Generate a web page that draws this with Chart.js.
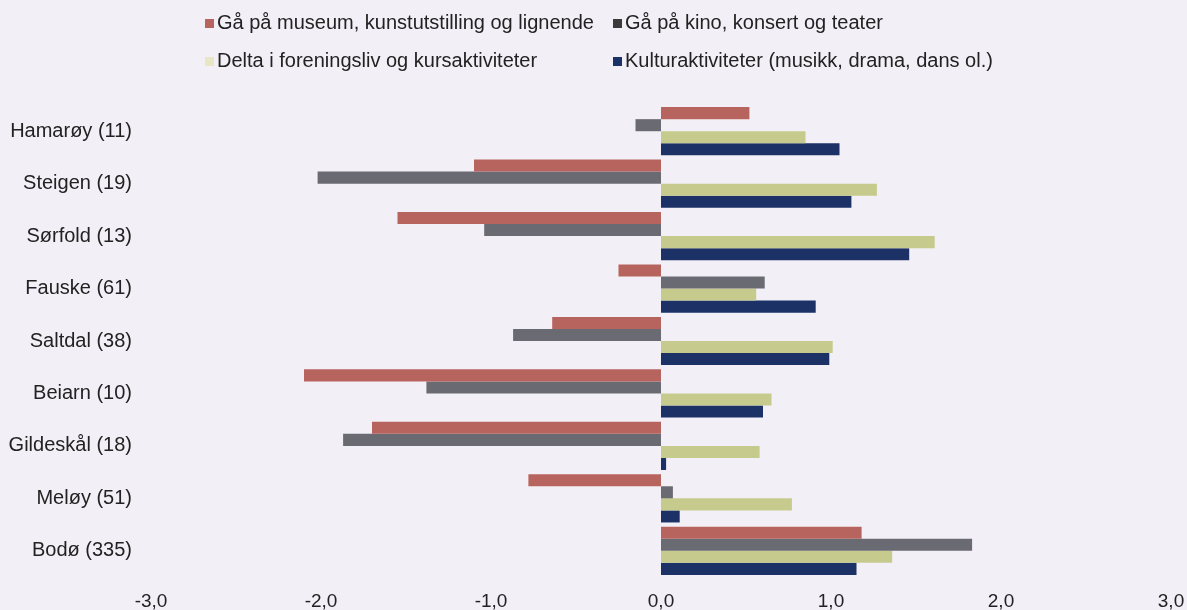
<!DOCTYPE html>
<html>
<head>
<meta charset="utf-8">
<script src="https://cdn.jsdelivr.net/npm/chart.js@4/dist/chart.umd.min.js"></script>
<style>
  html, body { margin: 0; padding: 0; background: #f3eff6; }
  #wrap { position: relative; width: 1187px; height: 610px; }
  #legend { position: absolute; left: 0; top: 0; font-family: "Liberation Sans", Arial, sans-serif; font-size: 20px; color: #222; }
  .item { position: absolute; white-space: nowrap; line-height: 20px; }
  .item i { display: inline-block; width: 9px; height: 9px; margin-right: 3px; vertical-align: 1px; }
</style>
</head>
<body>
<div id="wrap">
  <canvas id="chart" width="1187" height="610"></canvas>
  <div id="legend"></div>
</div>
<script>
// kommuner (antall svar)
const kommuner = ['Hamarøy (11)', 'Steigen (19)', 'Sørfold (13)', 'Fauske (61)', 'Saltdal (38)',
  'Beiarn (10)', 'Gildeskål (18)', 'Meløy (51)', 'Bodø (335)'];

const seriesNames = ['Gå på museum, kunstutstilling og lignende', 'Gå på kino, konsert og teater',
  'Delta i foreningsliv og kursaktiviteter', 'Kulturaktiviteter (musikk, drama, dans ol.)'];

const museum  = [0.52, -1.10, -1.55, -0.25, -0.64, -2.10, -1.70, -0.78, 1.18];
const kino    = [-0.15, -2.02, -1.04, 0.61, -0.87, -1.38, -1.87, 0.07, 1.83];
const forening = [0.85, 1.27, 1.61, 0.56, 1.01, 0.65, 0.58, 0.77, 1.36];
const kultur  = [1.05, 1.12, 1.46, 0.91, 0.99, 0.60, 0.03, 0.11, 1.15];

const xTicks = [-3, -2, -1, 0, 1, 2, 3];

const colors = ['#b7635e', '#6a6a72', '#c6cb8d', '#1c3266'];
const legendColors = ['#b7635e', '#3a3a3a', '#e9e6c6', '#1c3266'];

// legend is placed by hand, like the original
const legendPos = [[205, 12], [613, 12], [205, 50], [613, 50]];
const legend = document.getElementById('legend');
seriesNames.forEach((name, i) => {
  const d = document.createElement('div');
  d.className = 'item';
  d.style.left = legendPos[i][0] + 'px';
  d.style.top = legendPos[i][1] + 'px';
  d.innerHTML = '<i style="background:' + legendColors[i] + '"></i>' + name;
  legend.appendChild(d);
});

const bg = {
  id: 'bg',
  beforeDraw(chart) {
    const c = chart.ctx;
    c.save();
    c.fillStyle = '#f3eff6';
    c.fillRect(0, 0, chart.width, chart.height);
    c.restore();
  }
};

const font = { family: '"Liberation Sans", Arial, sans-serif', size: 20 };

new Chart(document.getElementById('chart').getContext('2d'), {
  type: 'bar',
  data: {
    labels: kommuner,
    datasets: [museum, kino, forening, kultur].map((d, i) => ({
      label: seriesNames[i],
      data: d,
      backgroundColor: colors[i],
      categoryPercentage: 0.92,
      barPercentage: 1.0
    }))
  },
  options: {
    indexAxis: 'y',
    responsive: false,
    animation: false,
    layout: { padding: { top: 105, right: 16, left: 0, bottom: 0 } },
    plugins: { legend: { display: false }, tooltip: { enabled: false } },
    scales: {
      x: {
        min: -3, max: 3,
        afterBuildTicks(s) { s.ticks = xTicks.map(v => ({ value: v })); },
        afterFit(s) { s.height = 33; s.paddingLeft = 0; s.paddingRight = 0; },
        grid: { display: false, drawTicks: false },
        border: { display: false },
        ticks: {
          font: { family: font.family, size: 19 }, color: '#222', padding: 13,
          callback: v => v.toFixed(1).replace('.', ',')
        }
      },
      y: {
        afterFit(s) { s.width = 151; },
        grid: { display: false, drawTicks: false },
        border: { display: false },
        ticks: { font: font, color: '#222', padding: 19 }
      }
    }
  },
  plugins: [bg]
});
</script>
</body>
</html>
